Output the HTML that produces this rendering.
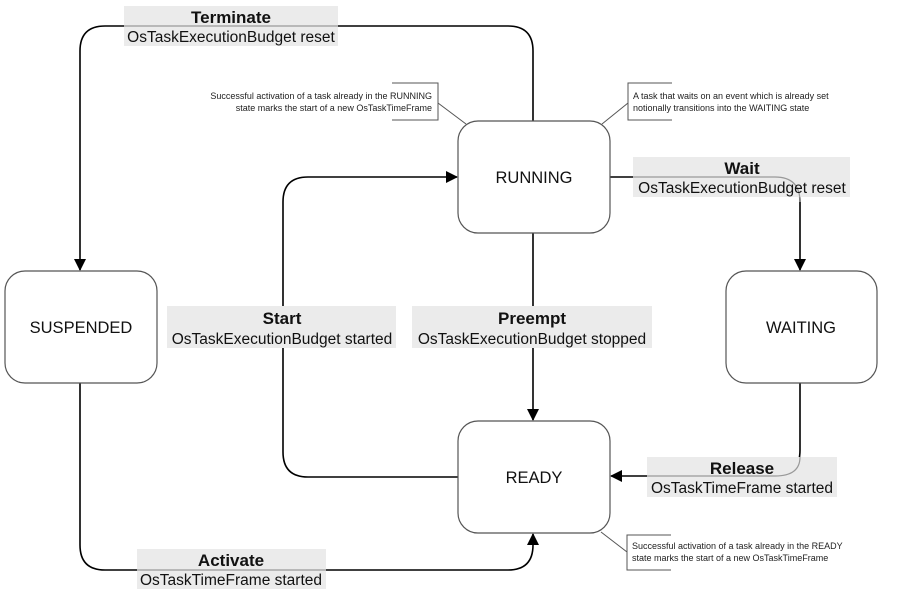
<!DOCTYPE html>
<html><head><style>body{margin:0;background:#fff}svg{display:block}text{font-family:"Liberation Sans",Arial,sans-serif}</style></head><body>
<svg width="908" height="603" viewBox="0 0 908 603" xmlns="http://www.w3.org/2000/svg">
<defs><marker id="a" markerWidth="12" markerHeight="12" refX="11" refY="6" orient="auto" markerUnits="userSpaceOnUse"><path d="M0,0 L12,6 L0,12 z" fill="#000"/></marker></defs>
<g fill="none" stroke="#000" stroke-width="1.6">
<path d="M533,121 V51 Q533,26 508,26 H105 Q80,26 80,51 V270" marker-end="url(#a)"/>
<path d="M458,477 H308 Q283,477 283,452 V202 Q283,177 308,177 H457" marker-end="url(#a)"/>
<path d="M533,233 V420" marker-end="url(#a)"/>
<path d="M610,177 H775 Q800,177 800,202 V270" marker-end="url(#a)"/>
<path d="M800,383 V450 Q800,476 775,476 H611" marker-end="url(#a)"/>
<path d="M80,383 V545 Q80,570 105,570 H508 Q533,570 533,545 V534" marker-end="url(#a)"/>
</g>
<g fill="#ebebeb">
<rect x="124" y="6" width="214" height="40"/>
<rect x="167" y="306" width="229" height="42"/>
<rect x="412" y="306" width="240" height="42"/>
<rect x="633" y="157" width="217" height="40"/>
<rect x="647" y="457" width="190" height="40"/>
<rect x="137" y="549" width="189" height="40"/>
</g>
<g fill="none" stroke="#999" stroke-width="1.2">
<path d="M633,177 H775 Q800,177 800,202 V197"/>
<path d="M800,457 Q800,476 775,476 H647"/>
<path d="M124,26 H338"/>
<path d="M137,570 H326"/>
</g>
<g fill="#fff" stroke="#555" stroke-width="1.2">
<rect x="5" y="271" width="152" height="112" rx="20"/>
<rect x="458" y="121" width="152" height="112" rx="20"/>
<rect x="726" y="271" width="151" height="112" rx="20"/>
<rect x="458" y="421" width="152" height="112" rx="20"/>
</g>
<g fill="none" stroke="#555" stroke-width="1">
<path d="M392,83 H438 V120 H392"/><path d="M438,103 L466,124"/>
<path d="M672,83 H628 V120 H672"/><path d="M628,103 L602,124"/>
<path d="M671,535 H627 V570 H671"/><path d="M627,552 L601,532"/>
</g>
<g font-size="16.5" text-anchor="middle" fill="#111">
<text x="81" y="333">SUSPENDED</text>
<text x="534" y="183">RUNNING</text>
<text x="801" y="333">WAITING</text>
<text x="534" y="483">READY</text>
</g>
<g font-size="15.5" text-anchor="middle" fill="#111">
<text x="231" y="23" font-weight="bold" font-size="17">Terminate</text><text x="231" y="42">OsTaskExecutionBudget reset</text>
<text x="282" y="324" font-weight="bold" font-size="17">Start</text><text x="282" y="344">OsTaskExecutionBudget started</text>
<text x="532" y="324" font-weight="bold" font-size="17">Preempt</text><text x="532" y="344">OsTaskExecutionBudget stopped</text>
<text x="742" y="174" font-weight="bold" font-size="17">Wait</text><text x="742" y="193">OsTaskExecutionBudget reset</text>
<text x="742" y="474" font-weight="bold" font-size="17">Release</text><text x="742" y="493">OsTaskTimeFrame started</text>
<text x="231" y="566" font-weight="bold" font-size="17">Activate</text><text x="231" y="585">OsTaskTimeFrame started</text>
</g>
<g font-size="9" fill="#222">
<text x="432" y="99" text-anchor="end">Successful activation of a task already in the RUNNING</text>
<text x="432" y="111" text-anchor="end">state marks the start of a new OsTaskTimeFrame</text>
<text x="633" y="99">A task that waits on an event which is already set</text>
<text x="633" y="111">notionally transitions into the WAITING state</text>
<text x="632" y="549">Successful activation of a task already in the READY</text>
<text x="632" y="561">state marks the start of a new OsTaskTimeFrame</text>
</g>
</svg>
</body></html>
